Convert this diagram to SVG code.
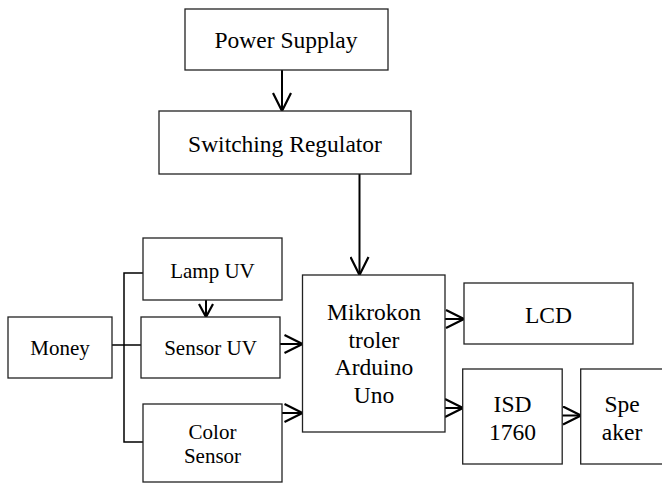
<svg xmlns="http://www.w3.org/2000/svg" width="662" height="483" viewBox="0 0 662 483">
<style>
.box{fill:#fff;stroke:#222;stroke-width:1.3}
.t{font-family:"Liberation Serif","Times New Roman",serif;font-size:23.5px;fill:#000;text-anchor:middle}
.s{font-size:21px}
.c{fill:none;stroke:#000;stroke-width:2}
.tree{fill:none;stroke:#000;stroke-width:1.5}
</style>
<defs>
<marker id="arr" viewBox="0 0 20 20" refX="19" refY="10" markerWidth="20" markerHeight="20" markerUnits="userSpaceOnUse" orient="auto">
<path d="M1,1 L19,10 L1,19" fill="none" stroke="#000" stroke-width="2.2"/>
</marker>
<marker id="arrs" viewBox="0 0 16 16" refX="15" refY="8" markerWidth="16" markerHeight="16" markerUnits="userSpaceOnUse" orient="auto">
<path d="M2,1 L15,8 L2,15" fill="none" stroke="#000" stroke-width="2.2"/>
</marker>
</defs>
<rect width="662" height="483" fill="#fff"/>
<g id="connectors">
<line class="c" x1="282" y1="70" x2="282" y2="111" marker-end="url(#arr)"/>
<line class="c" x1="359.5" y1="174" x2="359.5" y2="275" marker-end="url(#arr)"/>
<line class="c" x1="206" y1="300" x2="206" y2="317" marker-end="url(#arrs)"/>
<polyline class="tree" points="143,273 124,273 124,442 143,442"/>
<line class="tree" x1="112" y1="345" x2="141" y2="345"/>
<line class="c" x1="280" y1="344" x2="302.5" y2="344" marker-end="url(#arr)"/>
<line class="c" x1="282" y1="413" x2="302.5" y2="413" marker-end="url(#arr)"/>
<line class="c" x1="445" y1="319" x2="464" y2="319" marker-end="url(#arr)"/>
<line class="c" x1="445" y1="408" x2="463" y2="408" marker-end="url(#arr)"/>
<line class="c" x1="562" y1="415.5" x2="581" y2="415.5" marker-end="url(#arr)"/>
</g>
<g id="power-supply">
<rect class="box" x="185" y="9" width="203" height="61"/>
<text class="t" x="286" y="48">Power Supplay</text>
</g>
<g id="switching-regulator">
<rect class="box" x="159" y="111" width="252" height="63"/>
<text class="t" x="285" y="152">Switching Regulator</text>
</g>
<g id="lamp-uv">
<rect class="box" x="143" y="238" width="139" height="62"/>
<text class="t s" x="212.5" y="278">Lamp UV</text>
</g>
<g id="sensor-uv">
<rect class="box" x="141" y="317" width="139" height="61"/>
<text class="t s" x="210.5" y="355">Sensor UV</text>
</g>
<g id="money">
<rect class="box" x="8" y="317" width="104" height="61"/>
<text class="t s" x="60" y="355">Money</text>
</g>
<g id="color-sensor">
<rect class="box" x="143" y="404" width="139" height="78"/>
<text class="t s" x="212.5" y="439">Color</text>
<text class="t s" x="212.5" y="463">Sensor</text>
</g>
<g id="arduino">
<rect class="box" x="302.5" y="275" width="142.5" height="157"/>
<text class="t" x="374" y="320">Mikrokon</text>
<text class="t" x="374" y="347.5">troler</text>
<text class="t" x="374" y="375">Arduino</text>
<text class="t" x="374" y="403">Uno</text>
</g>
<g id="lcd">
<rect class="box" x="464" y="283" width="169" height="61"/>
<text class="t" x="548.5" y="322.5">LCD</text>
</g>
<g id="isd">
<rect class="box" x="462.7" y="369" width="99.5" height="95"/>
<text class="t" x="512.5" y="411.5">ISD</text>
<text class="t" x="512.5" y="440">1760</text>
</g>
<g id="speaker">
<rect class="box" x="580.7" y="369" width="85" height="95"/>
<text class="t" x="622" y="411.5">Spe</text>
<text class="t" x="622" y="440">aker</text>
</g>
</svg>
